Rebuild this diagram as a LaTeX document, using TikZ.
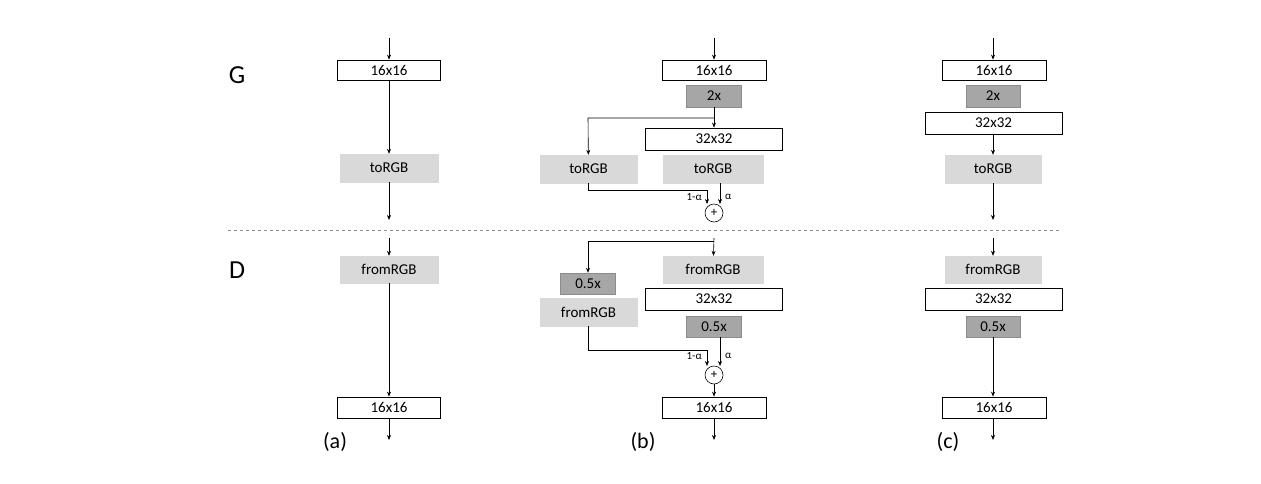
\documentclass[tikz,border=0pt]{standalone}
\usepackage{fontspec}
\setmainfont{Carlito}
\usetikzlibrary{arrows.meta}
\begin{document}
\begin{tikzpicture}[x=1pt,y=-1pt,
  wb/.style={draw=black,fill=white,line width=0.8pt,inner sep=0,font=\fontsize{15}{15}\selectfont},
  lg/.style={draw=black!15,fill=black!15,inner sep=0,font=\fontsize{15}{15}\selectfont},
  dg/.style={draw=black!45,fill=black!35,inner sep=0,font=\fontsize{15}{15}\selectfont},
  ar/.style={-{Stealth[length=5pt,width=4pt]},line width=0.6pt},
  ln/.style={line width=0.6pt},
  sm/.style={font=\fontsize{11}{11}\selectfont,inner sep=1pt},
  lab/.style={font=\fontsize{22}{22}\selectfont}]
\useasboundingbox (0,0) rectangle (1261,483);
\newcommand{\bx}[6]{\node[#1,minimum width=#4-#3,minimum height=#6-#5] (#2) at ({(#3+#4)/2},{(#5+#6)/2}) {};}
% labels
\node[font=\fontsize{26}{26}\selectfont] at (237,75) {G};
\node[font=\fontsize{26}{26}\selectfont] at (237,270) {D};
\draw[dashed,black!45,line width=0.7pt] (228,230) -- (1062,230);
% ---------- (a)
\node[wb,minimum width=103,minimum height=20] (a1) at (389,70) {16x16};
\node[lg,minimum width=98,minimum height=28] (a2) at (389,168) {toRGB};
\node[lg,minimum width=98,minimum height=27] (a3) at (389,269.5) {fromRGB};
\node[wb,minimum width=103,minimum height=21] (a4) at (389,407.5) {16x16};
\coordinate (a0) at (389,38); \coordinate (ae) at (389,220);
\coordinate (a5) at (389,238); \coordinate (af) at (389,440);
\draw[ar] (a0) -- (a1); \draw[ar] (a1) -- (a2); \draw[ar] (a2) -- (ae);
\draw[ar] (a5) -- (a3); \draw[ar] (a3) -- (a4); \draw[ar] (a4) -- (af);
\node[lab] at (335,442) {(a)};
% ---------- (b)
\node[wb,minimum width=104,minimum height=20] (b1) at (714,70) {16x16};
\node[dg,minimum width=55,minimum height=22] (b2) at (714,96) {2x};
\node[wb,minimum width=137,minimum height=22] (b3) at (714,139) {32x32};
\node[lg,minimum width=97,minimum height=28] (b4) at (588.5,169) {toRGB};
\node[lg,minimum width=100,minimum height=28] (b5) at (713,169) {toRGB};
\node[draw,circle,minimum size=18,inner sep=0,line width=0.6pt,font=\fontsize{13}{13}\selectfont] (bp) at (714,213) {+};
\coordinate (b0) at (714,38); \coordinate (bs) at (714,118); \coordinate (bL) at (588,118);
\draw[ar] (b0) -- (b1);
\draw[ln] (b2) -- (bs); \draw[ar] (bs) -- (b3.north);
\draw[ar] (bs) -- (bL) -- (b4);
\coordinate (bq1) at (588,190); \coordinate (bq2) at (707,190); \coordinate (bq3) at (707,204);
\draw[ar] (b4.south -| bq1) -- (bq1) -- (bq2) -- (bq3);
\coordinate (br1) at (720,183); \coordinate (br2) at (720,204);
\draw[ar] (br1) -- (br2);
\node[sm,anchor=east] at (703,197) {1-α};
\node[sm,anchor=west] at (724,197) {α};
\coordinate (be) at (714,222);
% D part
\node[lg,minimum width=100,minimum height=27] (b6) at (713,269.5) {fromRGB};
\node[wb,minimum width=137,minimum height=22] (b7) at (714,299) {32x32};
\node[dg,minimum width=55,minimum height=21] (b8) at (714,326.5) {0.5x};
\node[dg,minimum width=55,minimum height=21] (b9) at (588,283.5) {0.5x};
\node[lg,minimum width=97,minimum height=28] (b10) at (588.5,312) {fromRGB};
\node[draw,circle,minimum size=18,inner sep=0,line width=0.6pt,font=\fontsize{13}{13}\selectfont] (bp2) at (714,375) {+};
\node[wb,minimum width=104,minimum height=21] (b11) at (714,407.5) {16x16};
\coordinate (bt) at (714,238); \coordinate (bt2) at (714,241); \coordinate (bt3) at (588,241);
\draw[ar] (bt) -- (b6);
\draw[ar] (bt2) -- (bt3) -- (b9);
\coordinate (bu1) at (588,350); \coordinate (bu2) at (707,350); \coordinate (bu3) at (707,366);
\draw[ar] (b10.south -| bu1) -- (bu1) -- (bu2) -- (bu3);
\coordinate (bv1) at (720,337); \coordinate (bv2) at (720,366);
\draw[ar] (bv1) -- (bv2);
\node[sm,anchor=east] at (703,356) {1-α};
\node[sm,anchor=west] at (724,356) {α};
\draw[ar] (bp2) -- (b11);
\coordinate (bf) at (714,440); \draw[ar] (b11) -- (bf);
\node[lab] at (643,442) {(b)};
% ---------- (c)
\node[wb,minimum width=104,minimum height=20] (c1) at (994,70) {16x16};
\node[dg,minimum width=54,minimum height=22] (c2) at (993,96) {2x};
\node[wb,minimum width=137,minimum height=22] (c3) at (993.5,123) {32x32};
\node[lg,minimum width=96,minimum height=28] (c4) at (993,169) {toRGB};
\node[lg,minimum width=96,minimum height=27] (c5) at (993,269.5) {fromRGB};
\node[wb,minimum width=137,minimum height=22] (c6) at (993.5,299) {32x32};
\node[dg,minimum width=54,minimum height=21] (c7) at (993,326.5) {0.5x};
\node[wb,minimum width=104,minimum height=21] (c8) at (994,407.5) {16x16};
\coordinate (c0) at (993,38); \coordinate (ce) at (993,220);
\coordinate (c9) at (993,238); \coordinate (cf) at (993,440);
\draw[ar] (c0) -- (c1.north -| c0); \draw[ar] (c3.south -| c4) -- (c4); \draw[ar] (c4) -- (ce);
\draw[ar] (c9) -- (c5); \draw[ar] (c7) -- (c8.north -| c7); \draw[ar] (c8.south -| cf) -- (cf);
\node[lab] at (948,442) {(c)};
\end{tikzpicture}
\end{document}
